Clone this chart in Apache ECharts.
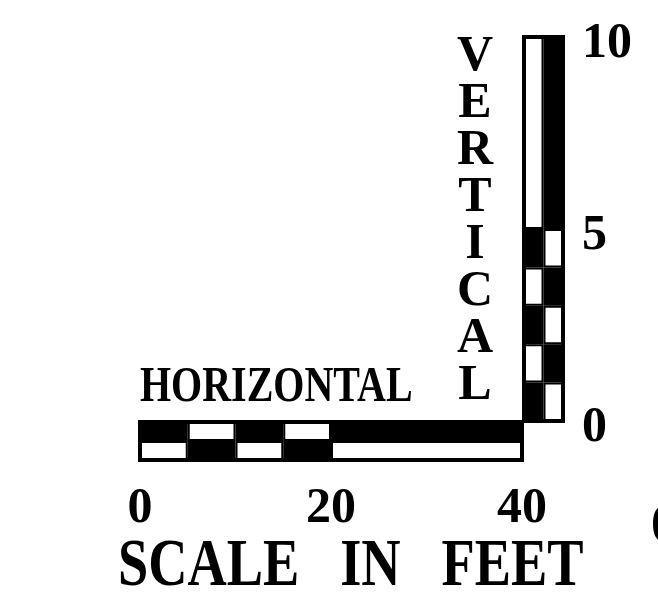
<!DOCTYPE html>
<html>
<head>
<meta charset="utf-8">
<script src="https://cdn.jsdelivr.net/npm/echarts@6/dist/echarts.min.js"></script>
<style>
  html, body { margin: 0; padding: 0; background: #fff; }
  #chart { width: 658px; height: 601px; }
</style>
</head>
<body>
<div id="chart"></div>
<script>
// horizontal scale: block lengths in feet, 1 = dark block
const hBlocks = [5, 5, 5, 5, 20];
const hTopShade = [1, 0, 1, 0, 1];
const hBottomShade = [0, 1, 0, 1, 0];
const hTicks = [0, 20, 40];

// vertical scale: block heights in feet
const vBlocks = [1, 1, 1, 1, 1, 5];
const vLeftShade = [1, 0, 1, 0, 1, 0];
const vRightShade = [0, 1, 0, 1, 0, 1];
const vTicks = [0, 5, 10];

const FONT = '"Liberation Serif", "DejaVu Serif", serif';
const shade = s => s ? '#000' : '#fff';

const chart = echarts.init(document.getElementById('chart'), null, { renderer: 'canvas' });

const hidden = { axisLine: { show: false }, axisTick: { show: false }, splitLine: { show: false } };
const labelStyle = { color: '#000', fontFamily: FONT, fontWeight: 'bold', fontSize: 50 };

const series = [];
hBlocks.forEach((len, i) => {
    series.push({
        type: 'bar', stack: 'h', xAxisIndex: 0, yAxisIndex: 0,
        barWidth: '100%', barCategoryGap: '0%', silent: true,
        itemStyle: { borderColor: '#000', borderWidth: 2 },
        data: [
            { value: len, itemStyle: { color: shade(hBottomShade[i]) } },
            { value: len, itemStyle: { color: shade(hTopShade[i]) } }
        ]
    });
});
vBlocks.forEach((len, i) => {
    series.push({
        type: 'bar', stack: 'v', xAxisIndex: 1, yAxisIndex: 1,
        barWidth: '100%', barCategoryGap: '0%', silent: true,
        itemStyle: { borderColor: '#000', borderWidth: 2 },
        data: [
            { value: len, itemStyle: { color: shade(vLeftShade[i]) } },
            { value: len, itemStyle: { color: shade(vRightShade[i]) } }
        ]
    });
});

chart.setOption({
    animation: false,
    backgroundColor: '#fff',
    grid: [
        { left: 140, right: 136, top: 422, height: 38, show: true, borderColor: '#000', borderWidth: 4 },
        { left: 524, right: 95, top: 37, bottom: 180, show: true, borderColor: '#000', borderWidth: 4 }
    ],
    xAxis: [
        {
            gridIndex: 0, type: 'value', min: 0, max: 40, interval: 20, ...hidden,
            axisLabel: { ...labelStyle, margin: 24, customValues: hTicks }
        },
        {
            gridIndex: 1, type: 'category', data: ['left', 'right'], ...hidden,
            axisLabel: { show: false }
        }
    ],
    yAxis: [
        {
            gridIndex: 0, type: 'category', data: ['bottom', 'top'], ...hidden,
            axisLabel: { show: false }
        },
        {
            gridIndex: 1, type: 'value', min: 0, max: 10, interval: 5, position: 'right', ...hidden,
            axisLabel: { ...labelStyle, margin: 19, verticalAlign: 'top', lineHeight: 14, customValues: vTicks }
        }
    ],
    graphic: [
        {
            type: 'text', x: 140, y: 388, scaleX: 0.8,
            style: { text: 'HORIZONTAL', fill: '#000', font: 'bold 50px ' + FONT, verticalAlign: 'middle' }
        },
        {
            type: 'text', x: 475, y: 34,
            style: {
                text: 'V\nE\nR\nT\nI\nC\nA\nL', fill: '#000', font: 'bold 50px ' + FONT,
                align: 'center', lineHeight: 47
            }
        },
        {
            type: 'text', x: 118, y: 567, scaleX: 0.8,
            style: { text: 'SCALE   IN   FEET', fill: '#000', font: 'bold 68px ' + FONT, verticalAlign: 'middle' }
        },
        {
            type: 'text', x: 651, y: 528,
            style: { text: '0', fill: '#000', font: 'bold 52px ' + FONT, verticalAlign: 'middle' }
        }
    ],
    series: series
});
</script>
</body>
</html>
